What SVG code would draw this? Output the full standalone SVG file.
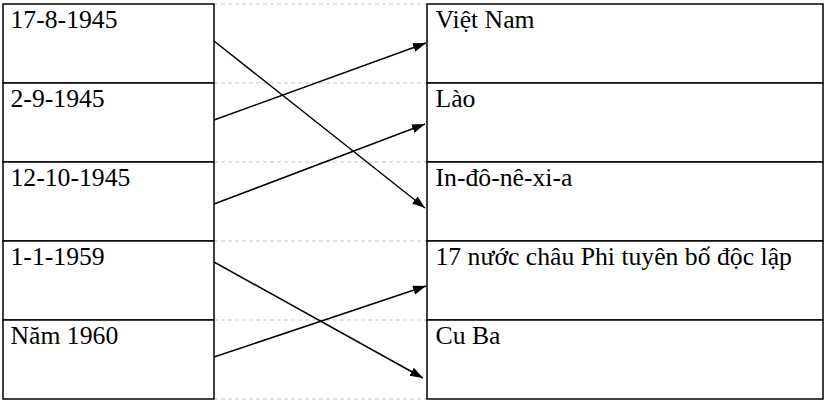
<svg xmlns="http://www.w3.org/2000/svg" width="825" height="401" viewBox="0 0 825 401">
<defs>
<marker id="ah" markerUnits="userSpaceOnUse" markerWidth="14" markerHeight="10" refX="13" refY="4.5" orient="auto">
<path d="M0,0 L13,4.5 L0,9 z" fill="#000"/>
</marker>
</defs>
<rect width="825" height="401" fill="#fff"/>
<g id="guides" stroke="#c8c8c8" stroke-width="1" stroke-dasharray="4,3" fill="none">
<line x1="214" y1="4" x2="427" y2="4"/>
<line x1="214" y1="83" x2="427" y2="83"/>
<line x1="214" y1="162" x2="427" y2="162"/>
<line x1="214" y1="241" x2="427" y2="241"/>
<line x1="214" y1="320" x2="427" y2="320"/>
<line x1="214" y1="399" x2="427" y2="399"/>
</g>
<g id="l1"><rect x="3" y="4" width="211" height="79" fill="#fff" stroke="#000" stroke-width="1.5"/><text x="10.5" y="28.3" font-family="Liberation Serif" font-size="25.7">17-8-1945</text></g>
<g id="l2"><rect x="3" y="83" width="211" height="79" fill="#fff" stroke="#000" stroke-width="1.5"/><text x="10.5" y="107" font-family="Liberation Serif" font-size="25.7">2-9-1945</text></g>
<g id="l3"><rect x="3" y="162" width="211" height="79" fill="#fff" stroke="#000" stroke-width="1.5"/><text x="10.5" y="186" font-family="Liberation Serif" font-size="25.7">12-10-1945</text></g>
<g id="l4"><rect x="3" y="241" width="211" height="79" fill="#fff" stroke="#000" stroke-width="1.5"/><text x="10.5" y="265" font-family="Liberation Serif" font-size="25.7">1-1-1959</text></g>
<g id="l5"><rect x="3" y="320" width="211" height="79" fill="#fff" stroke="#000" stroke-width="1.5"/><text x="10.5" y="344" font-family="Liberation Serif" font-size="25.7">Năm 1960</text></g>
<g id="r1"><rect x="427" y="4" width="396" height="79" fill="#fff" stroke="#000" stroke-width="1.5"/><text x="435.5" y="28.3" font-family="Liberation Serif" font-size="25.7">Việt Nam</text></g>
<g id="r2"><rect x="427" y="83" width="396" height="79" fill="#fff" stroke="#000" stroke-width="1.5"/><text x="435.5" y="107" font-family="Liberation Serif" font-size="25.7">Lào</text></g>
<g id="r3"><rect x="427" y="162" width="396" height="79" fill="#fff" stroke="#000" stroke-width="1.5"/><text x="435.5" y="186" font-family="Liberation Serif" font-size="25.7">In-đô-nê-xi-a</text></g>
<g id="r4"><rect x="427" y="241" width="396" height="79" fill="#fff" stroke="#000" stroke-width="1.5"/><text x="435.5" y="265" font-family="Liberation Serif" font-size="25.7">17 nước châu Phi tuyên bố độc lập</text></g>
<g id="r5"><rect x="427" y="320" width="396" height="79" fill="#fff" stroke="#000" stroke-width="1.5"/><text x="435.5" y="344" font-family="Liberation Serif" font-size="25.7">Cu Ba</text></g>
<g id="connectors" stroke="#000" stroke-width="1.5" fill="none">
<line marker-end="url(#ah)" x1="214" y1="41" x2="425" y2="208"/>
<line marker-end="url(#ah)" x1="214" y1="120" x2="426" y2="43"/>
<line marker-end="url(#ah)" x1="214" y1="204" x2="425" y2="124"/>
<line marker-end="url(#ah)" x1="214" y1="262" x2="423" y2="378"/>
<line marker-end="url(#ah)" x1="214" y1="357" x2="426" y2="286"/>
</g>
</svg>
